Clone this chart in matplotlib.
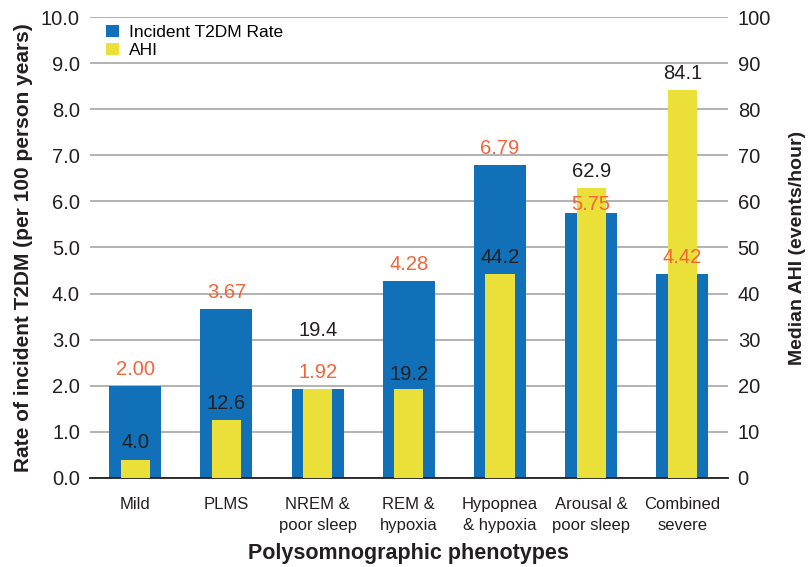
import numpy as np
import matplotlib.pyplot as plt

plt.rcParams['font.family'] = ['Liberation Sans', 'DejaVu Sans']

# phenotype categories and values
phenotypes = ['Mild', 'PLMS', 'NREM &\npoor sleep', 'REM &\nhypoxia',
              'Hypopnea\n& hypoxia', 'Arousal &\npoor sleep', 'Combined\nsevere']
t2dm_rate = [2.00, 3.67, 1.92, 4.28, 6.79, 5.75, 4.42]
median_ahi = [4.0, 12.6, 19.4, 19.2, 44.2, 62.9, 84.1]

# label offsets (points above bar top)
rate_offset = [12, 12, 12, 12, 12, 6, 12]
ahi_offset = [12, 12, 42, 11, 12, 12, 12]

blue = '#1170b8'
yellow = '#ebdf3a'
orange = '#f2643a'
dark = '#231f20'

fig = plt.figure(figsize=(8.08, 5.67), dpi=100)
ax = fig.add_axes([0.111, 0.157, 0.79, 0.813])
ax2 = ax.twinx()

x = np.arange(len(phenotypes))
ax.bar(x, t2dm_rate, width=0.57, color=blue, zorder=2, label='Incident T2DM Rate')
ax2.bar(x, median_ahi, width=0.32, color=yellow, zorder=2, label='AHI')

ax.set_ylim(0, 10)
ax2.set_ylim(0, 100)
ax.set_xlim(-0.5, len(phenotypes) - 0.5)
ax.set_yticks(np.arange(0, 10.01, 1.0))
ax.set_yticklabels([f'{v:.1f}' for v in np.arange(0, 10.01, 1.0)])
ax2.set_yticks(np.arange(0, 101, 10))
ax.yaxis.grid(True, color='#9e9e9e', linewidth=1.1, zorder=0)
ax.set_axisbelow(True)

for a in (ax, ax2):
    for side in ('top', 'left', 'right', 'bottom'):
        a.spines[side].set_visible(False)
    a.tick_params(length=0, labelsize=14.5, colors=dark)
ax.spines['bottom'].set_visible(True)
ax.spines['bottom'].set_color(dark)
ax.spines['bottom'].set_linewidth(1.3)
ax.tick_params(axis='y', pad=7)
ax2.tick_params(axis='y', pad=7)

ax.set_xticks(x)
ax.set_xticklabels(phenotypes, linespacing=1.45)
ax.tick_params(axis='x', pad=14, labelsize=12)

# value labels drawn on the top axes so they sit over both bar sets
for i in range(len(phenotypes)):
    ax2.annotate(f'{t2dm_rate[i]:.2f}', (x[i], t2dm_rate[i] * 10),
                 xytext=(0, rate_offset[i]), textcoords='offset points',
                 ha='center', va='center', fontsize=14.5, color=orange, zorder=5)
    ax2.annotate(f'{median_ahi[i]:.1f}', (x[i], median_ahi[i]),
                 xytext=(0, ahi_offset[i]), textcoords='offset points',
                 ha='center', va='center', fontsize=14.5, color=dark, zorder=5)

ax.set_ylabel('Rate of incident T2DM (per 100 person years)', fontsize=15,
              fontweight='bold', color=dark, labelpad=6)
ax2.set_ylabel('Median AHI (events/hour)', fontsize=14, fontweight='bold',
               color=dark, labelpad=13)
ax.set_xlabel('Polysomnographic phenotypes', fontsize=15.5, fontweight='bold',
              color=dark, labelpad=7)

h1, l1 = ax.get_legend_handles_labels()
h2, l2 = ax2.get_legend_handles_labels()
ax2.legend(h1 + h2, l1 + l2, loc='upper left', bbox_to_anchor=(0.01, 1.005),
           frameon=False, fontsize=12.5, handlelength=0.7, handleheight=0.7,
           handletextpad=0.6, labelspacing=0.15, borderaxespad=0.2)

fig.savefig('out.png', dpi=100)
